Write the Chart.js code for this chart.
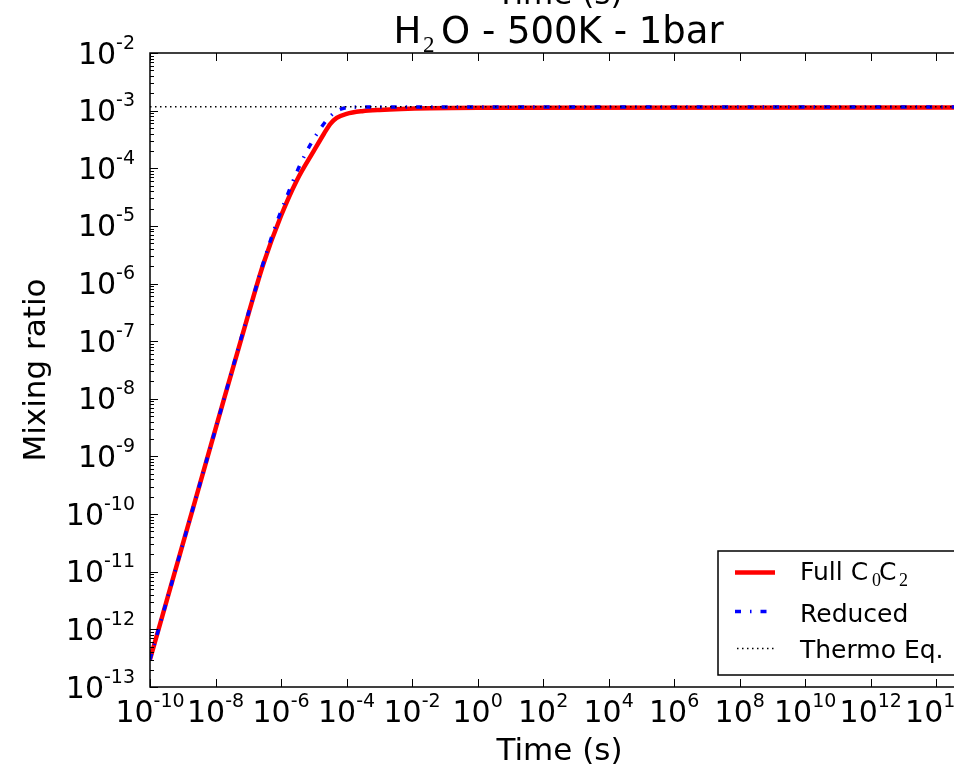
<!DOCTYPE html>
<html>
<head>
<meta charset="utf-8">
<script src="https://cdn.jsdelivr.net/npm/chart.js@4"></script>
<style>
  html, body { margin: 0; padding: 0; background: #fff; overflow: hidden; }
  #wrap { position: absolute; left: 0; top: 0; width: 1000px; height: 767px; }
</style>
</head>
<body>
<div id="wrap"><canvas id="chart" width="1000" height="767"></canvas></div>
<script>
// Дані
const timeFull = [1e-10, 1e-9, 1e-8, 1e-7, 2.9e-7, 1e-6, 3e-6, 1e-5, 2e-5, 3.2e-5, 5e-5, 1e-4, 3e-4, 1e-3, 3.5e-2, 1, 1e15];
const mixFull  = [3e-13, 3e-11, 3e-9, 2.9e-7, 2.2e-6, 1.5e-5, 6.1e-5, 2.0e-4, 3.9e-4, 5.9e-4, 7.5e-4, 8.8e-4, 9.8e-4, 1.03e-3, 1.1e-3, 1.12e-3, 1.13e-3];

const timeReduced = [1e-10, 1e-9, 1e-8, 1e-7, 5.2e-7, 1.8e-6, 3.6e-6, 8.1e-6, 2.2e-5, 4e-5, 7e-5, 1.2e-4, 1e-3, 1e15];
const mixReduced  = [3e-13, 3e-11, 3e-9, 3e-7, 6.5e-6, 4.2e-5, 1.07e-4, 2.65e-4, 6.3e-4, 9.0e-4, 1.07e-3, 1.14e-3, 1.16e-3, 1.16e-3];

const timeThermo = [1e-10, 1e15];
const mixThermo  = [1.17e-3, 1.17e-3];

// Показники степеня для підписів осей
const xTickExp = [-10, -8, -6, -4, -2, 0, 2, 4, 6, 8, 10, 12, 14];
const yTickExp = [-13, -12, -11, -10, -9, -8, -7, -6, -5, -4, -3, -2];

const toPoints = (xs, ys) => xs.map((x, i) => ({ x: x, y: ys[i] }));
const FONT = "DejaVu Sans";
const BASE_FONT = "30px '" + FONT + "'";
const EXP_FONT = "19px '" + FONT + "'";

// підпис 10^e: основа + піднятий показник
function drawPow10(ctx, e, x, baseline, align) {
  const expText = String(e);
  ctx.font = BASE_FONT;
  const w1 = ctx.measureText("10").width;
  ctx.font = EXP_FONT;
  const w2 = ctx.measureText(expText).width;
  const total = w1 + w2;
  const start = align === "center" ? x - total / 2 : x - total;
  ctx.font = BASE_FONT;
  ctx.fillText("10", start, baseline);
  ctx.font = EXP_FONT;
  ctx.fillText(expText, start + w1, baseline - 15);
}

// Рамка, засічки, підписи, заголовок і легенда
const decorPlugin = {
  id: "decor",
  afterDraw(chart) {
    const ctx = chart.ctx;
    const a = chart.chartArea;
    const xs = chart.scales.x;
    const ys = chart.scales.y;
    ctx.save();

    // засічки всередину
    ctx.strokeStyle = "#000";
    ctx.lineWidth = 1;
    ctx.beginPath();
    xTickExp.forEach(e => {
      const px = Math.round(xs.getPixelForValue(Math.pow(10, e))) + 0.5;
      ctx.moveTo(px, a.bottom); ctx.lineTo(px, a.bottom - 8);
      ctx.moveTo(px, a.top); ctx.lineTo(px, a.top + 8);
    });
    yTickExp.forEach(e => {
      const py = Math.round(ys.getPixelForValue(Math.pow(10, e))) + 0.5;
      ctx.moveTo(a.left, py); ctx.lineTo(a.left + 8, py);
      ctx.moveTo(a.right, py); ctx.lineTo(a.right - 8, py);
      if (e < -2) {
        for (let k = 2; k <= 9; k++) {
          const pm = Math.round(ys.getPixelForValue(k * Math.pow(10, e))) + 0.5;
          ctx.moveTo(a.left, pm); ctx.lineTo(a.left + 4, pm);
          ctx.moveTo(a.right, pm); ctx.lineTo(a.right - 4, pm);
        }
      }
    });
    ctx.stroke();

    // рамка
    ctx.lineWidth = 1.5;
    ctx.strokeRect(a.left, a.top, a.right - a.left, a.bottom - a.top);

    // підписи засічок
    ctx.fillStyle = "#000";
    ctx.textAlign = "left";
    ctx.textBaseline = "alphabetic";
    xTickExp.forEach(e => {
      drawPow10(ctx, e, xs.getPixelForValue(Math.pow(10, e)), a.bottom + 35, "center");
    });
    yTickExp.forEach(e => {
      drawPow10(ctx, e, a.left - 15, ys.getPixelForValue(Math.pow(10, e)) + 10.5, "right");
    });

    // обрізаний підпис верхньої осі
    ctx.textAlign = "center";
    ctx.font = "31px '" + FONT + "'";
    ctx.fillText("Time (s)", (a.left + a.right) / 2, 4);

    // заголовок
    ctx.textAlign = "left";
    ctx.font = "37px '" + FONT + "'";
    ctx.fillText("H", 393.5, 43);
    ctx.font = "23px 'Liberation Serif'";
    ctx.fillText("2", 423, 52);
    ctx.font = "37px '" + FONT + "'";
    ctx.fillText("O - 500K - 1bar", 441, 43);

    // легенда
    ctx.fillStyle = "#fff";
    ctx.fillRect(718, 551, 260, 124);
    ctx.strokeStyle = "#000";
    ctx.lineWidth = 1.5;
    ctx.strokeRect(718, 551, 260, 124);

    ctx.lineCap = "butt";
    ctx.strokeStyle = "#ff0000";
    ctx.lineWidth = 4.5;
    ctx.setLineDash([]);
    ctx.beginPath(); ctx.moveTo(735, 572.5); ctx.lineTo(775, 572.5); ctx.stroke();

    ctx.strokeStyle = "#0000ff";
    ctx.lineWidth = 3.5;
    ctx.setLineDash([6, 9, 1.5, 9]);
    ctx.beginPath(); ctx.moveTo(735, 611.5); ctx.lineTo(775, 611.5); ctx.stroke();

    ctx.strokeStyle = "#000";
    ctx.lineWidth = 1.5;
    ctx.setLineDash([1.5, 3.5]);
    ctx.beginPath(); ctx.moveTo(737, 648.5); ctx.lineTo(775, 648.5); ctx.stroke();
    ctx.setLineDash([]);

    ctx.fillStyle = "#000";
    ctx.font = "25px '" + FONT + "'";
    ctx.fillText("Full C", 800, 580);
    ctx.fillText("C", 879, 580);
    ctx.font = "18px 'Liberation Serif'";
    ctx.fillText("0", 872, 586);
    ctx.fillText("2", 899, 586);
    ctx.font = "25px '" + FONT + "'";
    ctx.fillText("Reduced", 800, 621.5);
    ctx.fillText("Thermo Eq.", 800, 658);

    ctx.restore();
  }
};

const ctx = document.getElementById("chart").getContext("2d");

new Chart(ctx, {
  type: "line",
  data: {
    datasets: [
      {
        label: "Thermo Eq.",
        data: toPoints(timeThermo, mixThermo),
        borderColor: "#000000",
        borderWidth: 1.5,
        borderDash: [1.5, 3.5],
        pointRadius: 0,
        order: 0
      },
      {
        label: "Reduced",
        data: toPoints(timeReduced, mixReduced),
        borderColor: "#0000ff",
        borderWidth: 3.5,
        borderDash: [6, 9, 1.5, 9],
        pointRadius: 0,
        cubicInterpolationMode: "monotone",
        order: 1
      },
      {
        label: "Full C0C2",
        data: toPoints(timeFull, mixFull),
        borderColor: "#ff0000",
        borderWidth: 4.5,
        pointRadius: 0,
        cubicInterpolationMode: "monotone",
        order: 2
      }
    ]
  },
  options: {
    responsive: false,
    animation: false,
    devicePixelRatio: 1,
    layout: { padding: { top: 53, right: 31, left: 0, bottom: 0 } },
    plugins: {
      legend: { display: false },
      tooltip: { enabled: false }
    },
    scales: {
      x: {
        type: "logarithmic",
        min: 1e-10,
        max: 1e15,
        grid: { display: false, drawTicks: false },
        border: { display: false },
        ticks: { display: false },
        afterFit: s => { s.height = 80; },
        title: {
          display: true,
          text: "Time (s)",
          color: "#000",
          font: { family: FONT, size: 31, lineHeight: 1 },
          padding: 0
        }
      },
      y: {
        type: "logarithmic",
        min: 1e-13,
        max: 1e-2,
        grid: { display: false, drawTicks: false },
        border: { display: false },
        ticks: { display: false },
        afterFit: s => { s.width = 150; },
        title: {
          display: true,
          text: "Mixing ratio",
          color: "#000",
          font: { family: FONT, size: 31, lineHeight: 1 },
          padding: { top: 21 }
        }
      }
    }
  },
  plugins: [decorPlugin]
});
</script>
</body>
</html>
